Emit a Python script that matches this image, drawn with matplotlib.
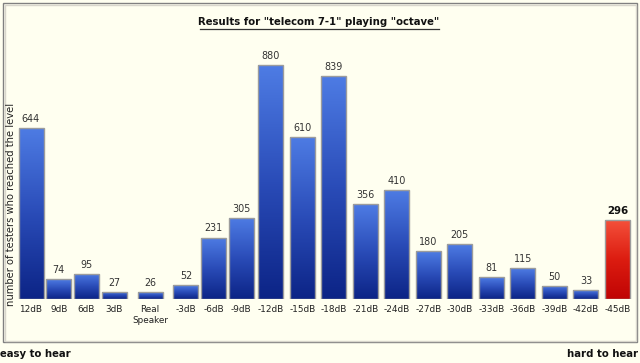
import numpy as np
import matplotlib
matplotlib.use("Agg")
import matplotlib.pyplot as plt
from matplotlib.colors import LinearSegmentedColormap
from matplotlib.patches import Rectangle

levels = ["12dB", "9dB", "6dB", "3dB", "Real\nSpeaker", "-3dB", "-6dB", "-9dB", "-12dB",
          "-15dB", "-18dB", "-21dB", "-24dB", "-27dB", "-30dB", "-33dB", "-36dB",
          "-39dB", "-42dB", "-45dB"]
testers = [644, 74, 95, 27, 26, 52, 231, 305, 880, 610, 839, 356, 410, 180, 205, 81, 115, 50, 33, 296]
highlight = "-45dB"

title = 'Results for "telecom 7-1" playing "octave"'
ylabel = "number of testers who reached the level"

bg = "#fffff0"
blue_cmap = LinearSegmentedColormap.from_list("b", ["#0c2486", "#2a4cb8", "#4e7ce4"])
red_cmap = LinearSegmentedColormap.from_list("r", ["#c00404", "#dc1c10", "#f4503a"])

# slot width follows the label width, like the original layout
slots = [max(27.7, 6.3 * max(len(s) for s in lab.split("\n"))) for lab in levels]
xs = [31.0]
for i in range(1, len(levels)):
    xs.append(xs[-1] + (slots[i - 1] + slots[i]) / 2)

W, H = 640, 363
fig = plt.figure(figsize=(6.4, 3.63), dpi=100, facecolor=bg)

# overlay in pixel coordinates for frame and texts
ov = fig.add_axes([0, 0, 1, 1])
ov.set_xlim(0, W)
ov.set_ylim(H, 0)
ov.axis("off")
ov.add_patch(Rectangle((3, 3), 634, 339, fill=False, edgecolor="#808080", lw=1))
ov.add_patch(Rectangle((4.5, 4.5), 631, 336, fill=False, edgecolor="#d8d6cc", lw=1))

ov.text(319, 22, title, ha="center", va="center", fontsize=7.3, fontweight="bold", color="#111111")
ov.plot([200, 439], [28.5, 28.5], color="#333333", lw=0.9)
ov.text(11, 204, ylabel, rotation=90, ha="center", va="center", fontsize=7.2, color="#222222")
ov.text(0, 354, "easy to hear", ha="left", va="center", fontsize=7.3, fontweight="bold", color="#111111")
ov.text(638, 354, "hard to hear", ha="right", va="center", fontsize=7.3, fontweight="bold", color="#111111")

for x, lab in zip(xs, levels):
    ov.text(x, 304.5, lab, ha="center", va="top", fontsize=6.4, color="#222222", linespacing=1.35)

# bar axes: baseline at y=299px, 880 reaches y=65px
ymax = 1000
base_px = 299
h_px = (base_px - 65) * ymax / 880
ax = fig.add_axes([0, (H - base_px) / H, 1, h_px / H])
ax.set_facecolor("none")
ax.axis("off")

grad = np.linspace(0, 1, 128).reshape(-1, 1)
bw = 25
for x, lab, v in zip(xs, levels, testers):
    hot = lab == highlight
    bar = ax.bar(x, v, width=bw, color="none", edgecolor="#9c9c9c", lw=1, zorder=3)[0]
    im = ax.imshow(grad, cmap=red_cmap if hot else blue_cmap, origin="lower", aspect="auto",
                   extent=[x - bw / 2, x + bw / 2, 0, v], zorder=2)
    im.set_clip_path(bar)
    ax.annotate(str(v), (x, v), xytext=(0, 3), textcoords="offset points", ha="center", va="bottom",
                fontsize=7.4 if hot else 6.9, fontweight="bold" if hot else "normal",
                color="#111111" if hot else "#333333")

ax.set_xlim(0, W)
ax.set_ylim(0, ymax)

fig.savefig("out.png", dpi=100, facecolor=bg)
